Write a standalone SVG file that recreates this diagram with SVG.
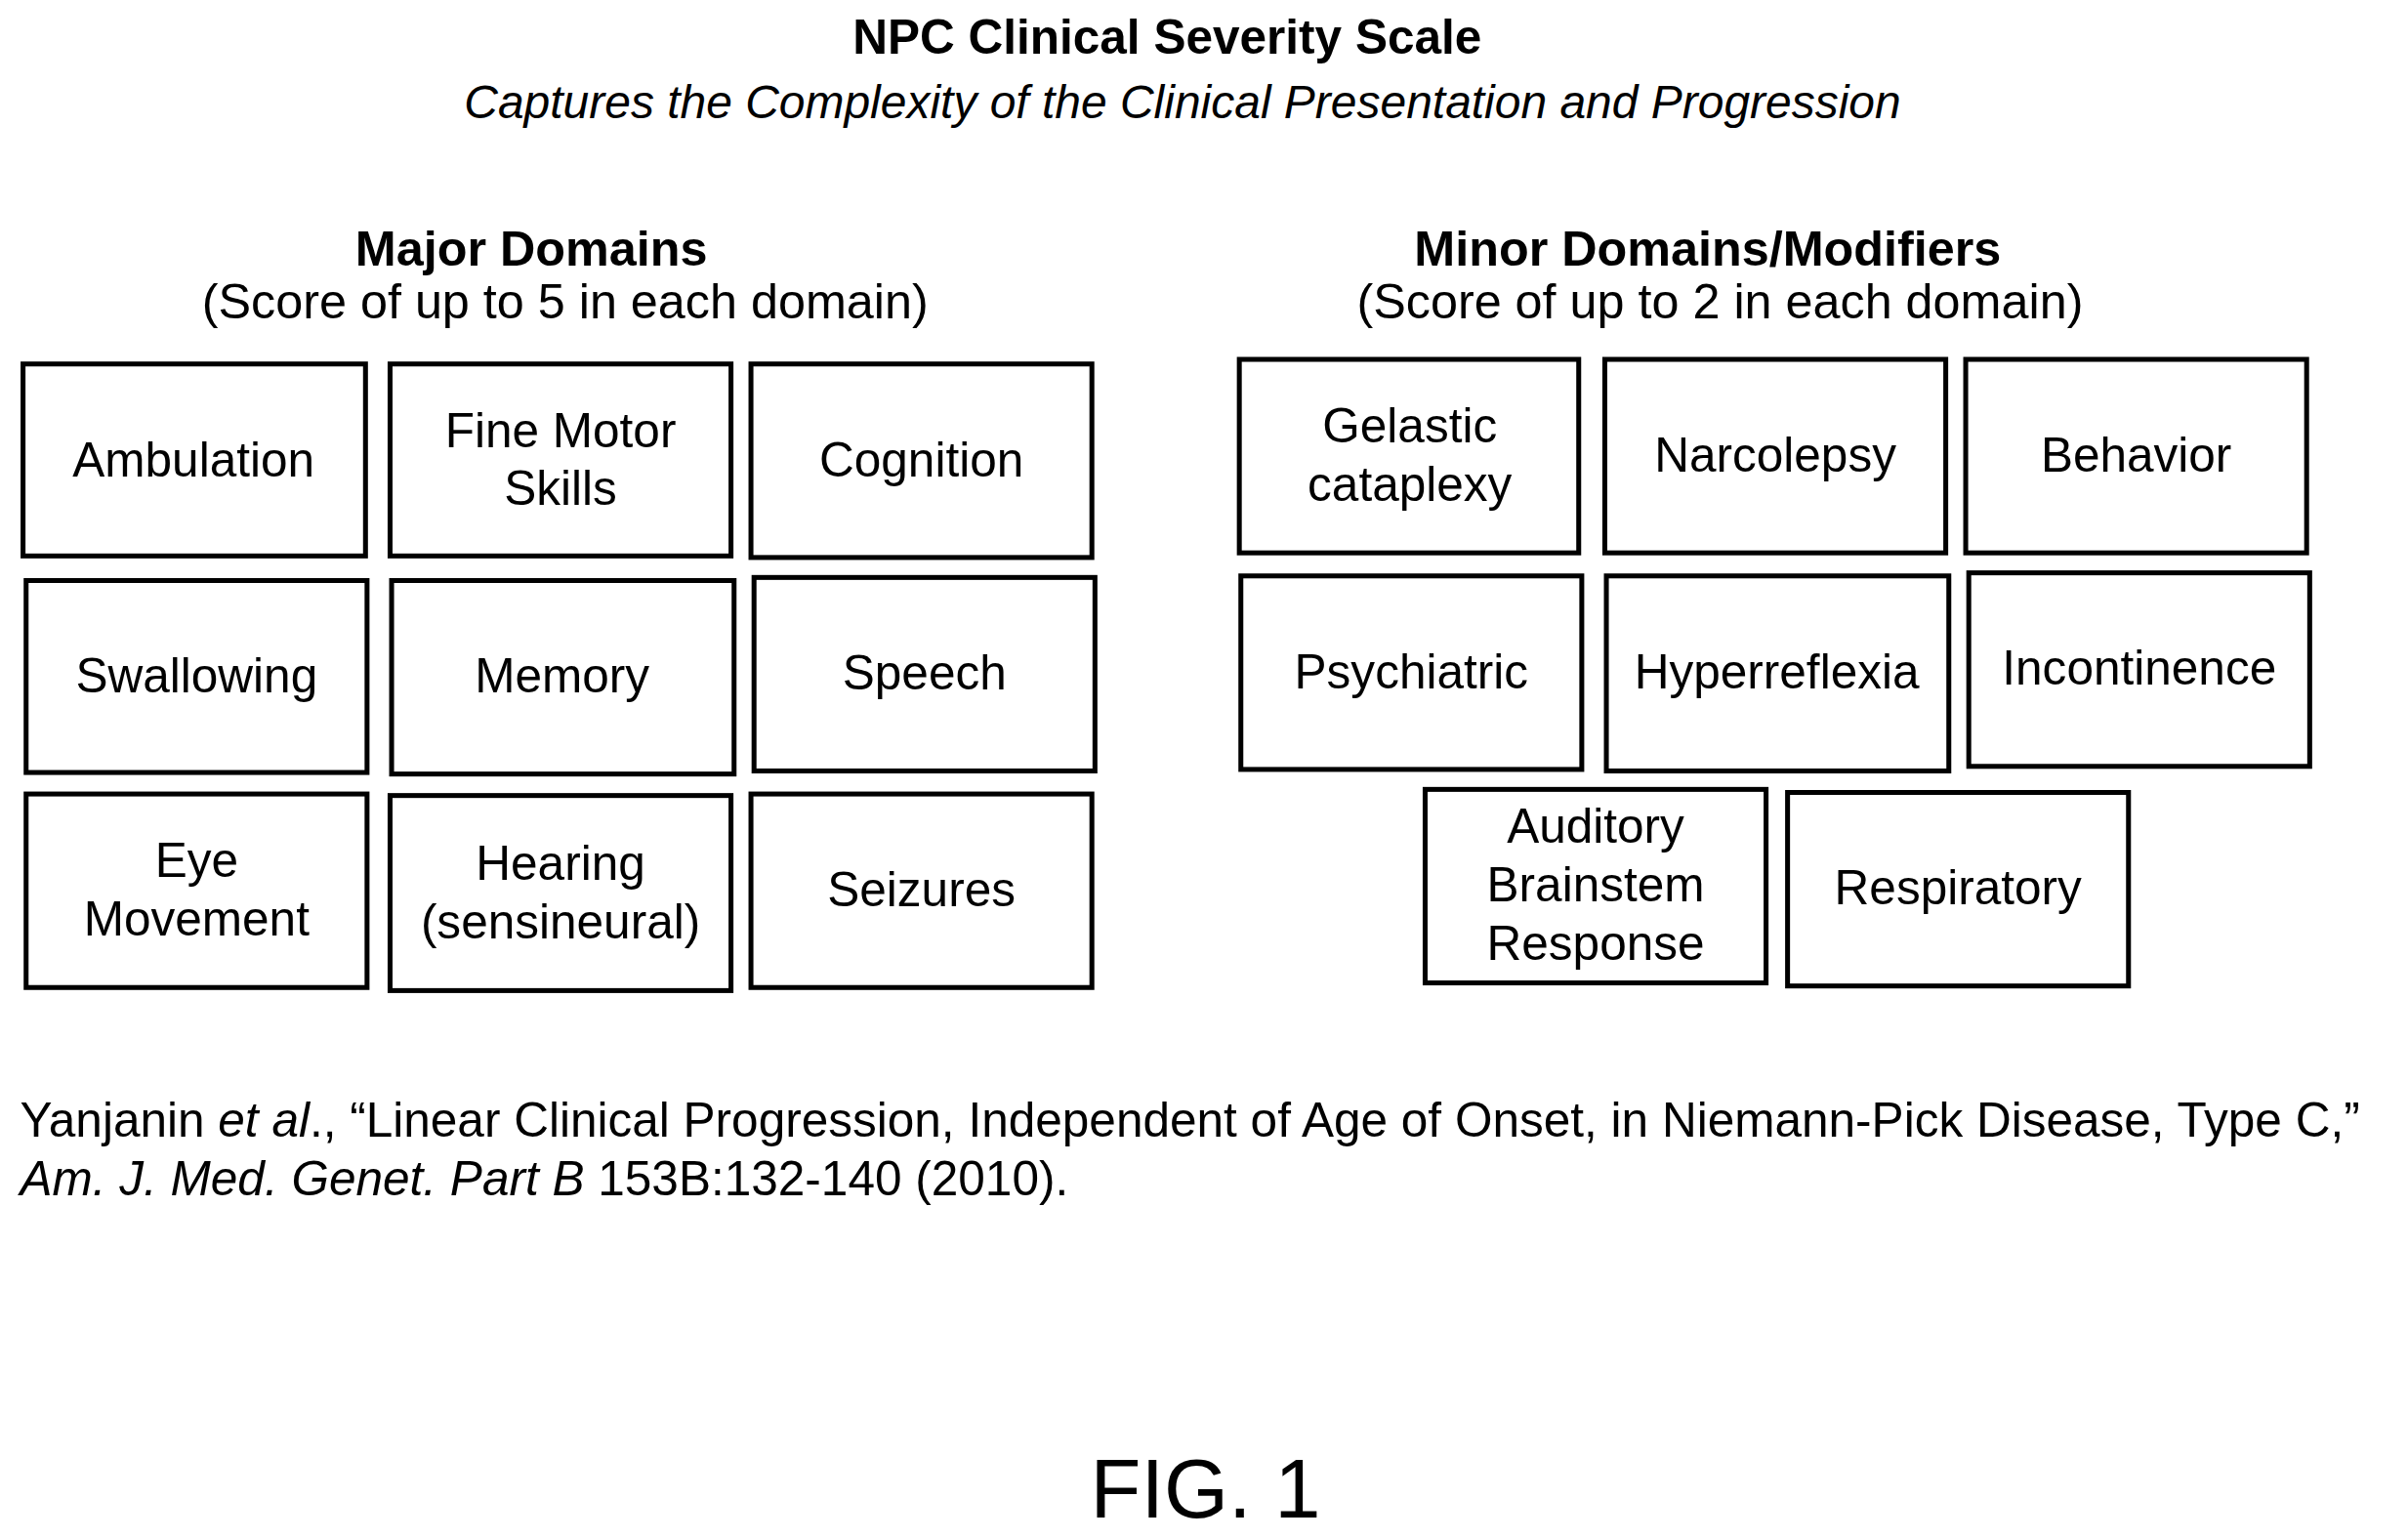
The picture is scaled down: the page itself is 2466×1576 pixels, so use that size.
<svg xmlns="http://www.w3.org/2000/svg" width="2466" height="1576" viewBox="0 0 2466 1576">
<style>
text{font-family:"Liberation Sans",Arial,sans-serif;fill:#000}
.b{fill:#fff;stroke:#000;stroke-width:3.2}
.t{font-size:31.5px;text-anchor:middle}
.h{font-size:32px;font-weight:bold;text-anchor:middle}
.s{font-size:32px;text-anchor:middle}
</style>
<rect width="2466" height="1576" fill="#fff"/>
<g transform="scale(1.5727)">
<text class="h" x="760" y="35" style="font-size:31.5px">NPC Clinical Severity Scale</text>
<text class="s" x="770" y="77" font-style="italic" style="font-size:30.5px">Captures the Complexity of the Clinical Presentation and Progression</text>
<text class="h" x="346" y="173">Major Domains</text>
<text class="s" x="368" y="207">(Score of up to 5 in each domain)</text>
<text class="h" x="1112" y="173">Minor Domains/Modifiers</text>
<text class="s" x="1120" y="207">(Score of up to 2 in each domain)</text>
<g id="ambulation"><rect class="b" x="15" y="237" width="223" height="125"/><text class="t" x="126" y="310">Ambulation</text></g>
<g id="finemotor"><rect class="b" x="254" y="237" width="222" height="125"/><text class="t" x="365" y="291">Fine Motor</text><text class="t" x="365" y="329">Skills</text></g>
<g id="cognition"><rect class="b" x="489" y="237" width="222" height="126"/><text class="t" x="600" y="310">Cognition</text></g>
<g id="swallowing"><rect class="b" x="17" y="378" width="222" height="125"/><text class="t" x="128" y="451">Swallowing</text></g>
<g id="memory"><rect class="b" x="255" y="378" width="223" height="126"/><text class="t" x="366" y="451">Memory</text></g>
<g id="speech"><rect class="b" x="491" y="376" width="222" height="126"/><text class="t" x="602" y="449">Speech</text></g>
<g id="eye"><rect class="b" x="17" y="517" width="222" height="126"/><text class="t" x="128" y="571">Eye</text><text class="t" x="128" y="609">Movement</text></g>
<g id="hearing"><rect class="b" x="254" y="518" width="222" height="127"/><text class="t" x="365" y="573">Hearing</text><text class="t" x="365" y="611">(sensineural)</text></g>
<g id="seizures"><rect class="b" x="489" y="517" width="222" height="126"/><text class="t" x="600" y="590">Seizures</text></g>
<g id="gelastic"><rect class="b" x="807" y="234" width="221" height="126"/><text class="t" x="918" y="288">Gelastic</text><text class="t" x="918" y="326">cataplexy</text></g>
<g id="narcolepsy"><rect class="b" x="1045" y="234" width="222" height="126"/><text class="t" x="1156" y="307">Narcolepsy</text></g>
<g id="behavior"><rect class="b" x="1280" y="234" width="222" height="126"/><text class="t" x="1391" y="307">Behavior</text></g>
<g id="psychiatric"><rect class="b" x="808" y="375" width="222" height="126"/><text class="t" x="919" y="448">Psychiatric</text></g>
<g id="hyperreflexia"><rect class="b" x="1046" y="375" width="223" height="127"/><text class="t" x="1157" y="448">Hyperreflexia</text></g>
<g id="incontinence"><rect class="b" x="1282" y="373" width="222" height="126"/><text class="t" x="1393" y="446">Incontinence</text></g>
<g id="auditory"><rect class="b" x="928" y="514" width="222" height="126"/><text class="t" x="1039" y="549">Auditory</text><text class="t" x="1039" y="587">Brainstem</text><text class="t" x="1039" y="625">Response</text></g>
<g id="respiratory"><rect class="b" x="1164" y="516" width="222" height="126"/><text class="t" x="1275" y="589">Respiratory</text></g>
<text x="13" y="740" style="font-size:31.5px">Yanjanin <tspan font-style="italic">et al</tspan>., “Linear Clinical Progression, Independent of Age of Onset, in Niemann-Pick Disease, Type C,”</text>
<text x="13" y="778" style="font-size:31.5px"><tspan font-style="italic">Am. J. Med. Genet. Part B</tspan> 153B:132-140 (2010).</text>
<text x="785" y="988" text-anchor="middle" style="font-size:54px">FIG. 1</text>
</g>
</svg>
